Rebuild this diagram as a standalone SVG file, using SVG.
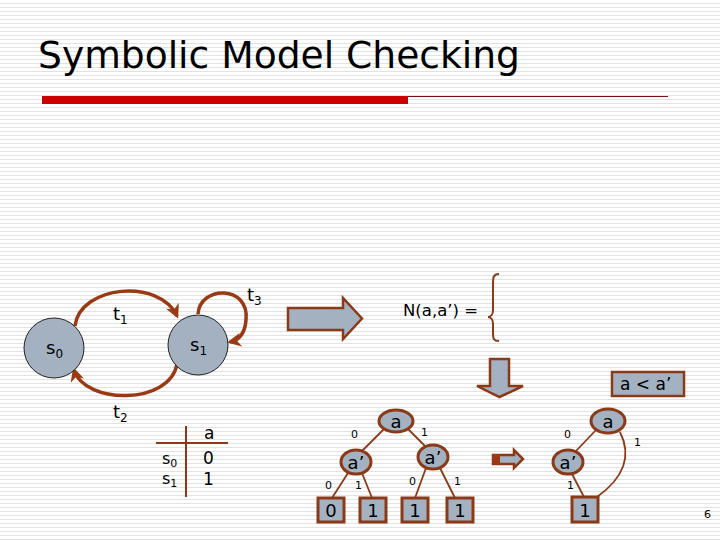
<svg xmlns="http://www.w3.org/2000/svg" width="720" height="540" viewBox="0 0 720 540">
<defs>
<pattern id="stripes" width="8" height="4" patternUnits="userSpaceOnUse">
<rect width="8" height="4" fill="#ffffff"/>
<rect y="3" width="8" height="1" fill="#e2e2e2"/>
</pattern>
<marker id="ah" viewBox="0 0 10 10" refX="8" refY="5" markerWidth="4" markerHeight="4" orient="auto" markerUnits="strokeWidth">
<path d="M0,0 L10,5 L0,10 L3,5 z" fill="#993a14"/>
</marker>
<style>
.t{font-family:"DejaVu Sans","Verdana",sans-serif;fill:#000}
.st{fill:#a3b1c1;stroke:#222;stroke-width:1}
.arc{fill:none;stroke:#993a14;stroke-width:3.5}
.blk{fill:#a3b1c1;stroke:#8b3a18;stroke-width:2.5}
.bdd{fill:#a3b1c1;stroke:#8b3a18;stroke-width:3}
.edge{fill:none;stroke:#8b3a18;stroke-width:1.8}
.lbl{font-family:"DejaVu Sans","Verdana",sans-serif;font-size:11px;fill:#000}
</style>
</defs>
<rect width="720" height="540" fill="url(#stripes)"/>
<text class="t" x="38" y="68" font-size="38" textLength="482" lengthAdjust="spacingAndGlyphs">Symbolic Model Checking</text>
<rect x="42" y="96" width="366" height="8" fill="#cc0000"/>
<line x1="408" y1="96.5" x2="668" y2="96.5" stroke="#7a1010" stroke-width="1"/>

<g id="connectors">
<path id="t1" class="arc" d="M75,326 C80,285 160,278 177,316" marker-end="url(#ah)"/>
<path id="t2" class="arc" d="M177,364 C170,405 85,405 74,370" marker-end="url(#ah)"/>
<path id="t3" class="arc" d="M198,314 C200,285 250,285 246,320 C245,333 240,340 230,342" marker-end="url(#ah)"/>
</g>
<g id="s0"><circle class="st" cx="54" cy="348" r="30"/><text class="t" x="46" y="354" font-size="18">s<tspan font-size="12" dy="4">0</tspan></text></g>
<g id="s1"><circle class="st" cx="198" cy="345" r="30"/><text class="t" x="190" y="351" font-size="18">s<tspan font-size="12" dy="4">1</tspan></text></g>
<g id="labels">
<text class="t" x="113" y="320" font-size="18">t<tspan font-size="12" dy="4">1</tspan></text>
<text class="t" x="247" y="301" font-size="18">t<tspan font-size="12" dy="4">3</tspan></text>
<text class="t" x="113" y="418" font-size="18">t<tspan font-size="12" dy="4">2</tspan></text>
</g>

<g id="bigarrow"><path class="blk" d="M288,308 L343,308 L343,298 L362,318.5 L343,339 L343,330 L288,330 Z"/></g>
<g id="formula">
<text class="t" x="403" y="316" font-size="16.5">N(a,a’) =</text>
<path d="M499,274 C493,274 493,278 493,284 L493,310 C493,314 491,317 488,317 C491,317 493,320 493,324 L493,334 C493,339 494,341 499,341" fill="none" stroke="#8b3a18" stroke-width="2"/>
</g>
<g id="downarrow"><path class="blk" d="M490,359 L509,359 L509,386 L523,386 L499.5,397 L477,386 L490,386 Z"/></g>
<g id="order"><rect class="blk" x="612" y="372" width="72" height="24"/><text class="t" x="620" y="390" font-size="17">a &lt; a’</text></g>

<g id="table">
<line x1="186" y1="426" x2="186" y2="497" stroke="#8b3a18" stroke-width="2"/>
<line x1="156" y1="443" x2="228" y2="443" stroke="#8b3a18" stroke-width="2"/>
<text class="t" x="204" y="439" font-size="17">a</text>
<text class="t" x="203" y="464" font-size="17">0</text>
<text class="t" x="203" y="485" font-size="17">1</text>
<text class="t" x="162" y="464" font-size="16">s<tspan font-size="11" dy="3">0</tspan></text>
<text class="t" x="162" y="484" font-size="16">s<tspan font-size="11" dy="3">1</tspan></text>
</g>

<g id="bdd-edges">
<line class="edge" x1="385" y1="428" x2="362" y2="451"/>
<line class="edge" x1="408" y1="429" x2="425" y2="446"/>
<line class="edge" x1="348" y1="473" x2="332" y2="498"/>
<line class="edge" x1="362" y1="473" x2="372" y2="498"/>
<line class="edge" x1="426" y1="468" x2="415" y2="498"/>
<line class="edge" x1="440" y1="468" x2="455" y2="498"/>
<line class="edge" x1="596" y1="430" x2="576" y2="451"/>
<path class="edge" d="M620,432 C628,448 632,472 597,497"/>
<line class="edge" x1="572" y1="474" x2="584" y2="497"/>
</g>
<g id="bdd1">
<g id="n-a"><ellipse class="bdd" cx="396" cy="421" rx="17" ry="11"/><text class="t" x="396" y="428" font-size="18" text-anchor="middle">a</text></g>
<g id="n-a1"><ellipse class="bdd" cx="356" cy="462" rx="15" ry="12"/><text class="t" x="356" y="469" font-size="18" text-anchor="middle">a’</text></g>
<g id="n-a2"><ellipse class="bdd" cx="433" cy="457" rx="15" ry="12"/><text class="t" x="433" y="464" font-size="18" text-anchor="middle">a’</text></g>
<g id="leaf0"><rect class="bdd" x="318" y="498" width="26" height="24"/><text class="t" x="331" y="517" font-size="18" text-anchor="middle">0</text></g>
<g id="leaf1"><rect class="bdd" x="360" y="498" width="26" height="24"/><text class="t" x="373" y="517" font-size="18" text-anchor="middle">1</text></g>
<g id="leaf2"><rect class="bdd" x="402" y="498" width="26" height="24"/><text class="t" x="415" y="517" font-size="18" text-anchor="middle">1</text></g>
<g id="leaf3"><rect class="bdd" x="447" y="498" width="26" height="24"/><text class="t" x="460" y="517" font-size="18" text-anchor="middle">1</text></g>
<text class="lbl" x="351" y="438">0</text>
<text class="lbl" x="421" y="436">1</text>
<text class="lbl" x="325" y="489">0</text>
<text class="lbl" x="355" y="489">1</text>
<text class="lbl" x="409" y="485">0</text>
<text class="lbl" x="454" y="485">1</text>
</g>
<g id="smallarrow"><path d="M493,455 L514,455 L514,450 L523,459 L514,468 L514,464 L493,464 Z" fill="#a3b1c1" stroke="#8b3a18" stroke-width="2.5"/><rect x="492" y="454" width="8" height="11" fill="#993a14"/></g>
<g id="bdd2">
<g id="m-a"><ellipse class="bdd" cx="608" cy="421" rx="17" ry="12"/><text class="t" x="608" y="428" font-size="18" text-anchor="middle">a</text></g>
<g id="m-a1"><ellipse class="bdd" cx="568" cy="462" rx="15" ry="12"/><text class="t" x="568" y="469" font-size="18" text-anchor="middle">a’</text></g>
<g id="m-leaf"><rect class="bdd" x="572" y="497" width="26" height="25"/><text class="t" x="585" y="517" font-size="18" text-anchor="middle">1</text></g>
<text class="lbl" x="564" y="438">0</text>
<text class="lbl" x="634" y="446">1</text>
<text class="lbl" x="567" y="489">1</text>
</g>
<text class="lbl" x="704" y="518">6</text>
</svg>
